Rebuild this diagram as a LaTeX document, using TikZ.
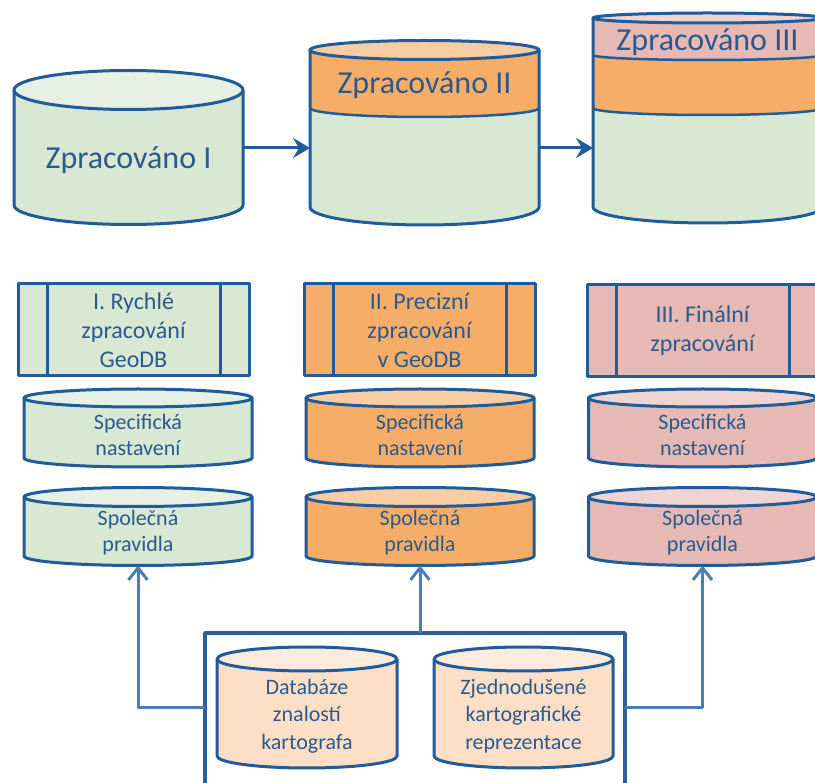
\documentclass[tikz,border=0pt]{standalone}
\usepackage{fontspec}
\setmainfont{Carlito}
\usetikzlibrary{arrows.meta}

\definecolor{outl}{HTML}{1F5C99}
\definecolor{ink}{HTML}{2A5A8E}
\definecolor{wire}{HTML}{4A7EBB}
\definecolor{frame}{HTML}{2F5F96}
\definecolor{grn}{HTML}{D8E8D3}
\definecolor{grnT}{HTML}{E6F0E3}
\definecolor{org}{HTML}{F5AD67}
\definecolor{orgT}{HTML}{F9CDA3}
\definecolor{pnk}{HTML}{E6B9B4}
\definecolor{pnkT}{HTML}{EFD4D1}
\definecolor{pch}{HTML}{FCDFC6}
\definecolor{pchT}{HTML}{FDEBDD}

% filled band of a drum: left x, right x, upper rim y, its y radius, lower rim y, its y radius, colour
\newcommand\drumband[7]{%
  \pgfmathsetmacro\drx{(#2-#1)/2}%
  \fill[#7] (#1,#3) -- (#1,#5)
    arc[start angle=180,end angle=360,x radius=\drx pt,y radius=#6pt] -- (#2,#3)
    arc[start angle=0,end angle=-180,x radius=\drx pt,y radius=#4pt] -- cycle;}
% outline of the sides and bottom: left x, right x, top y, bottom y, bottom y radius
\newcommand\drumside[5]{%
  \pgfmathsetmacro\drx{(#2-#1)/2}%
  \draw[outl,line width=3pt] (#1,#3) -- (#1,#4)
    arc[start angle=180,end angle=360,x radius=\drx pt,y radius=#5pt] -- (#2,#3);}
% seam between two bands: left x, right x, y, y radius
\newcommand\drumseam[4]{%
  \pgfmathsetmacro\drx{(#2-#1)/2}%
  \draw[outl,line width=2.5pt] (#1,#3)
    arc[start angle=180,end angle=360,x radius=\drx pt,y radius=#4pt];}
% top face: left x, right x, y, y radius, colour
\newcommand\drumtop[5]{%
  \pgfmathsetmacro\drx{(#2-#1)/2}\pgfmathsetmacro\dcx{(#1+#2)/2}%
  \filldraw[fill=#5,draw=outl,line width=3pt] (\dcx,#3)
    ellipse[x radius=\drx pt,y radius=#4pt];}

\begin{document}
\begin{tikzpicture}[x=1pt,y=-1pt,line join=round,
  every node/.style={inner sep=0pt,outer sep=0pt},
  big/.style={text=ink,font=\fontsize{32}{38}\selectfont},
  lbl/.style={text=ink,align=center,font=\fontsize{22}{26}\selectfont},
  lbl3/.style={text=ink,align=center,font=\fontsize{22}{27.5}\selectfont},
  stagebox/.style={draw=outl,line width=3pt,minimum width=231pt,minimum height=92pt,
    text=ink,align=center,font=\fontsize{24}{29}\selectfont},
  flow/.style={draw=outl,line width=3pt,-{Stealth[length=17pt,width=20pt,inset=6pt]}},
  feed/.style={draw=wire,line width=3pt,-{Straight Barb[length=12pt,width=19pt]}},
  bar/.style={draw=outl,line width=3pt}]
\useasboundingbox (0,0) rectangle (815,783);
\clip (0,0) rectangle (815,783);

% ---- processed data stores ----
\drumband{14}{243}{90}{19.5}{205}{19.5}{grn}
\drumside{14}{243}{90}{205}{19.5}
\drumtop{14}{243}{90}{19.5}{grnT}
\node[big] (tI) at (128.5,160) {Zpracováno I};
\node[minimum width=229pt,minimum height=115pt] (cyl1) at (128.5,148) {};

\drumband{310}{539}{50}{9.5}{108}{9}{org}
\drumband{310}{539}{108}{9}{207}{18}{grn}
\drumside{310}{539}{50}{207}{18}
\drumseam{310}{539}{108}{9}
\drumtop{310}{539}{50}{9.5}{orgT}
\node[big] (tII) at (424.5,85) {Zpracováno II};
\node[minimum width=229pt,minimum height=100pt] (cyl2) at (424.5,148) {};

\drumband{593}{822}{18}{5}{55}{5}{pnk}
\drumband{593}{822}{55}{5}{108}{7}{org}
\drumband{593}{822}{108}{7}{207}{16}{grn}
\drumside{593}{822}{18}{207}{16}
\drumseam{593}{822}{55}{5}
\drumseam{593}{822}{108}{7}
\drumtop{593}{822}{18}{5}{pnkT}
\node[big] (tIII) at (707.5,42) {Zpracováno III};
\node[minimum width=229pt,minimum height=100pt] (cyl3) at (707.5,148) {};

\draw[flow] (cyl1.east) -- (cyl2.west);
\draw[flow] (cyl2.east) -- (cyl3.west);

% ---- processing stages ----
\node[stagebox,fill=grn] (st1) at (133.5,330) {I. Rychlé\\zpracování\\GeoDB};
\node[stagebox,fill=org] (st2) at (419.5,330) {II. Precizní\\zpracování\\v GeoDB};
\node[stagebox,fill=pnk] (st3) at (702.5,331) {III. Finální\\zpracování};
\foreach \s in {st1,st2,st3}{
  \draw[bar] ([xshift=29pt]\s.north west) -- ([xshift=29pt]\s.south west);
  \draw[bar] ([xshift=-29pt]\s.north east) -- ([xshift=-29pt]\s.south east);
}

% ---- settings and rules per stage ----
\drumband{24}{252}{398}{9}{458}{9}{grn}
\drumside{24}{252}{398}{458}{9}
\drumtop{24}{252}{398}{9}{grnT}
\node[lbl] (spec1) at (138,435) {Specifická\\nastavení};
\drumband{306}{534}{398}{9}{458}{9}{org}
\drumside{306}{534}{398}{458}{9}
\drumtop{306}{534}{398}{9}{orgT}
\node[lbl] (spec2) at (420,435) {Specifická\\nastavení};
\drumband{588.5}{816.5}{398}{9}{458}{9}{pnk}
\drumside{588.5}{816.5}{398}{458}{9}
\drumtop{588.5}{816.5}{398}{9}{pnkT}
\node[lbl] (spec3) at (702.5,435) {Specifická\\nastavení};

\drumband{24}{252}{497}{9.5}{556}{9.5}{grn}
\drumside{24}{252}{497}{556}{9.5}
\drumtop{24}{252}{497}{9.5}{grnT}
\node[lbl] (spolt1) at (138,532.5) {Společná\\pravidla};
\node[minimum width=228pt,minimum height=78pt] (spol1) at (138,526.5) {};
\drumband{306}{534}{497}{9.5}{556}{9.5}{org}
\drumside{306}{534}{497}{556}{9.5}
\drumtop{306}{534}{497}{9.5}{orgT}
\node[lbl] (spolt2) at (420,532.5) {Společná\\pravidla};
\node[minimum width=228pt,minimum height=78pt] (spol2) at (420,526.5) {};
\drumband{588.5}{816.5}{497}{9.5}{556}{9.5}{pnk}
\drumside{588.5}{816.5}{497}{556}{9.5}
\drumtop{588.5}{816.5}{497}{9.5}{pnkT}
\node[lbl] (spolt3) at (702.5,532.5) {Společná\\pravidla};
\node[minimum width=228pt,minimum height=78pt] (spol3) at (702.5,526.5) {};

% ---- knowledge sources ----
\node[draw=frame,line width=3.5pt,minimum width=420pt,minimum height=167pt] (kb) at (415,716.5) {};
\coordinate (hl) at (0,708);
\draw[feed] (kb.west |- hl) -| (spol1.south);
\draw[feed] (spol2.south |- kb.north) -- (spol2.south);
\draw[feed] (kb.east |- hl) -| (spol3.south);

\drumband{217}{397}{659}{12}{756}{12}{pch}
\drumside{217}{397}{659}{756}{12}
\drumtop{217}{397}{659}{12}{pchT}
\node[lbl3] (db) at (307,716) {Databáze\\znalostí\\kartografa};
\drumband{434}{613}{659}{12}{756}{12}{pch}
\drumside{434}{613}{659}{756}{12}
\drumtop{434}{613}{659}{12}{pchT}
\node[lbl3] (zr) at (523.5,716) {Zjednodušené\\kartografické\\reprezentace};
\end{tikzpicture}
\end{document}
